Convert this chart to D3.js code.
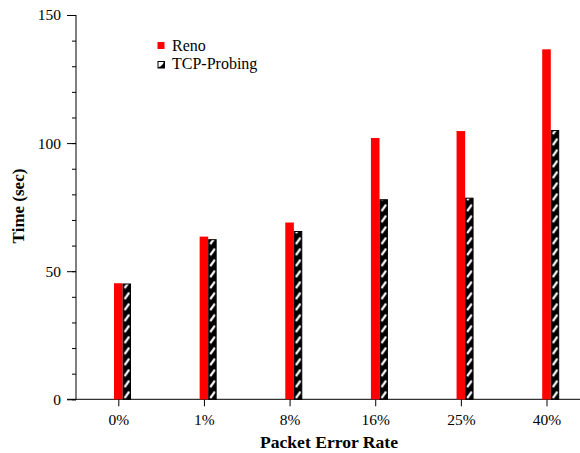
<!DOCTYPE html>
<html>
<head>
<meta charset="utf-8">
<script src="https://cdn.jsdelivr.net/npm/d3@7"></script>
<style>
  body { margin: 0; background: #fff; }
  svg { display: block; font-family: "Liberation Serif", "Times New Roman", serif; }
</style>
</head>
<body>
<svg id="chart" width="580" height="453"></svg>
<script>
const categories = ["0%", "1%", "8%", "16%", "25%", "40%"];
const renoValues = [45.3, 63.5, 69.0, 102.0, 104.7, 136.6];
const probingValues = [45.2, 62.5, 65.7, 78.1, 78.7, 105.1];
const yTicks = [0, 50, 100, 150];
const seriesNames = ["Reno", "TCP-Probing"];

const serif = "Liberation Serif";
const svg = d3.select("#chart");

const axisX = 76;
const baseY = 399.3;

const x = d3.scalePoint()
    .domain(categories)
    .range([118.3, 546.5]);

const y = d3.scaleLinear()
    .domain([0, 150])
    .range([baseY, 15]);

const barW = 8.6;

// stripe pattern per bar so stripes line up with each bar
const defs = svg.append("defs");
categories.forEach((c, i) => {
    const p = defs.append("pattern")
        .attr("id", "stripe" + i)
        .attr("patternUnits", "userSpaceOnUse")
        .attr("x", x(c) + barW / 2)
        .attr("y", baseY)
        .attr("width", 8.4)
        .attr("height", 11);
    p.append("rect").attr("width", 8.4).attr("height", 11).attr("fill", "#000");
    p.append("line")
        .attr("x1", 2).attr("y1", 9.8)
        .attr("x2", 6.6).attr("y2", 3.4)
        .attr("stroke", "#fff")
        .attr("stroke-width", 2.3);
});

// y axis (major + minor ticks)
const yAxis = d3.axisLeft(y)
    .tickValues(yTicks)
    .tickSize(9)
    .tickPadding(6)
    .tickFormat(d3.format("d"));

svg.append("g")
    .attr("transform", `translate(${axisX},0)`)
    .call(d3.axisLeft(y).tickValues(d3.range(0, 151, 10)).tickSize(4).tickFormat(""))
    .call(g => g.select(".domain").remove())
    .selectAll("line").attr("stroke", "#000");

svg.append("g")
    .attr("transform", `translate(${axisX},0)`)
    .call(yAxis)
    .attr("font-family", serif)
    .call(g => g.select(".domain").attr("d", `M0,${y(150)}V${baseY}`))
    .call(g => g.selectAll("text").attr("font-size", 15.5).attr("fill", "#000"))
    .call(g => g.selectAll("line").attr("stroke", "#000"));

// x axis
const xAxis = d3.axisBottom(x).tickSize(7).tickPadding(6);
svg.append("g")
    .attr("transform", `translate(0,${baseY})`)
    .call(xAxis)
    .attr("font-family", serif)
    .call(g => g.select(".domain").attr("d", `M${axisX - 9},0H580`))
    .call(g => g.selectAll("text").attr("font-size", 15.5).attr("fill", "#000").attr("dy", "0.85em"))
    .call(g => g.selectAll("line").attr("stroke", "#000"));

// bars
svg.append("g")
    .selectAll("rect")
    .data(renoValues)
    .join("rect")
    .attr("x", (d, i) => x(categories[i]) - barW / 2)
    .attr("y", d => y(d))
    .attr("width", barW)
    .attr("height", d => baseY - y(d))
    .attr("fill", "#ff0000");

svg.append("g")
    .selectAll("rect")
    .data(probingValues)
    .join("rect")
    .attr("x", (d, i) => x(categories[i]) + barW / 2 + 0.5)
    .attr("y", d => y(d) + 0.5)
    .attr("width", 7.4)
    .attr("height", d => baseY - y(d) - 0.5)
    .attr("fill", (d, i) => `url(#stripe${i})`)
    .attr("stroke", "#000")
    .attr("stroke-width", 1);

// legend
const legend = svg.append("g")
    .attr("transform", "translate(157.5,42)")
    .attr("font-family", serif);
legend.append("rect").attr("width", 7).attr("height", 7).attr("fill", "#ff0000");
const icon = legend.append("g").attr("transform", "translate(0,19)");
icon.append("rect").attr("x", 0.5).attr("y", 0.5).attr("width", 6.5).attr("height", 6.5)
    .attr("fill", "#fff").attr("stroke", "#000");
icon.append("path").attr("d", "M7,0.5V7H0.5Z").attr("fill", "#000");
icon.append("path").attr("d", "M2,5.5L5.5,2").attr("stroke", "#fff").attr("stroke-width", 1.2);

legend.selectAll("text")
    .data(seriesNames)
    .join("text")
    .attr("x", 14.5)
    .attr("y", (d, i) => 8.7 + i * 18.6)
    .attr("font-size", 16)
    .text(d => d);

// axis titles
svg.append("text")
    .attr("x", 329)
    .attr("y", 447.5)
    .attr("text-anchor", "middle")
    .attr("font-family", serif)
    .attr("font-size", 17.6)
    .attr("font-weight", "bold")
    .text("Packet Error Rate");

svg.append("text")
    .attr("transform", "translate(24,206) rotate(-90)")
    .attr("text-anchor", "middle")
    .attr("font-family", serif)
    .attr("font-size", 17)
    .attr("font-weight", "bold")
    .text("Time (sec)");
</script>
</body>
</html>
